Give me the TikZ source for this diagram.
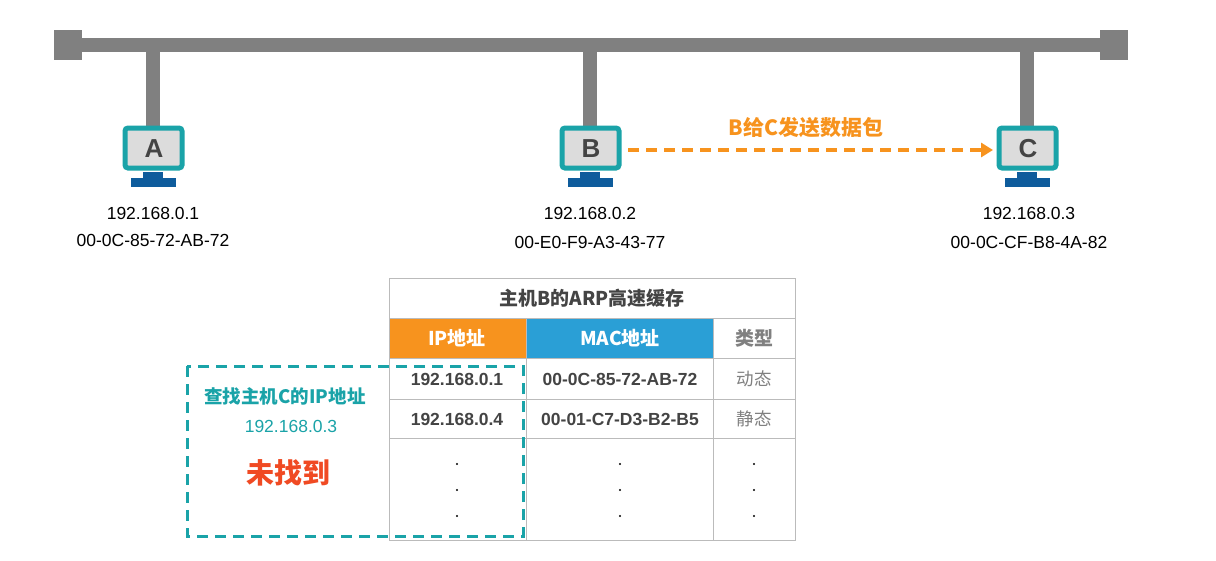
\documentclass[tikz,border=0pt]{standalone}
\usetikzlibrary{arrows.meta}
\usepackage{fontspec}
\setmainfont{Liberation Sans}
\newfontfamily\cjk{Noto Sans CJK SC}
\definecolor{bus}{HTML}{808080}
\definecolor{teal1}{HTML}{1AA3A8}
\definecolor{scr}{HTML}{DCDCDC}
\definecolor{stand}{HTML}{0E5C9C}
\definecolor{org}{HTML}{F7931E}
\definecolor{macb}{HTML}{2A9FD6}
\definecolor{txt}{HTML}{444444}
\definecolor{grid}{HTML}{BBBBBB}
\definecolor{red1}{HTML}{F04A23}
\tikzset{
 busline/.style={draw=bus,line width=14pt},
 addr/.style={font=\fontsize{17.5}{18}\selectfont,text=black},
 cell/.style={font=\bfseries\fontsize{17.5}{18}\selectfont,text=txt},
 gridl/.style={draw=grid,line width=1pt},
}
\newcommand{\pc}[3]{%
 \fill[stand] (#1-10,#2+47) rectangle (#1+10,#2+54);
 \fill[stand] (#1-22,#2+53) rectangle (#1+23,#2+62);
 \draw[teal1,fill=scr,line width=5pt,rounded corners=3pt] (#1-28,#2+3) rectangle (#1+29,#2+43);
 \node[font=\bfseries\fontsize{26}{26}\selectfont,text=txt] (#3) at (#1+1,#2+24) {#3};
}
\begin{document}
\begin{tikzpicture}[x=1pt,y=-1pt]
\useasboundingbox (0,0) rectangle (1216,560);
\fill[white] (0,0) rectangle (1216,560);
% bus
\coordinate (bl) at (68,45); \coordinate (br) at (1114,45);
\draw[busline] (bl) -- (br);
\fill[bus] (54,30) rectangle (82,60);
\fill[bus] (1100,30) rectangle (1128,60);
\foreach \x in {153,590,1027} \draw[busline] (\x,45) -- (\x,128);
\pc{153}{125}{A}
\pc{590}{125}{B}
\pc{1027}{125}{C}
\node[addr] (ia) at (153,213) {192.168.0.1};
\node[addr] (ma) at (153,240) {00-0C-85-72-AB-72};
\node[addr] (ib) at (590,213) {192.168.0.2};
\node[addr] (mb) at (590,242) {00-E0-F9-A3-43-77};
\node[addr] (ic) at (1029,213) {192.168.0.3};
\node[addr] (mc) at (1029,242) {00-0C-CF-B8-4A-82};
% arrow
\coordinate (as) at (628,150); \coordinate (ae) at (993,150);
\draw[org,line width=3.5pt,dash pattern=on 11pt off 7pt,-{Triangle[length=12pt,width=14pt]}] (as) -- (ae);
\node[text=org,font=\cjk\bfseries\fontsize{21}{22}\selectfont] (lbl) at (806,128) {B给C发送数据包};
% table
\fill[org] (389,318) rectangle (526,358);
\fill[macb] (526,318) rectangle (713,358);
\draw[gridl] (389,278) rectangle (795,540);
\foreach \y in {318,358,399,438} \draw[gridl] (389,\y) -- (795,\y);
\foreach \x in {526,713} \draw[gridl] (\x,318) -- (\x,540);
\node[font=\cjk\bfseries\fontsize{19}{20}\selectfont,text=txt] (tt) at (592,298) {主机B的ARP高速缓存};
\node[font=\cjk\bfseries\fontsize{19}{20}\selectfont,text=white] (h1) at (457,338) {IP地址};
\node[font=\cjk\bfseries\fontsize{19}{20}\selectfont,text=white] (h2) at (620,338) {MAC地址};
\node[font=\cjk\bfseries\fontsize{19}{20}\selectfont,text=gray] (h3) at (754,338) {类型};
\node[cell] (r11) at (457,379) {192.168.0.1};
\node[cell] (r12) at (620,379) {00-0C-85-72-AB-72};
\node[cell,font=\cjk\fontsize{17.5}{18}\selectfont,text=gray] (r13) at (754,379) {动态};
\node[cell] (r21) at (457,419) {192.168.0.4};
\node[cell] (r22) at (620,419) {00-01-C7-D3-B2-B5};
\node[cell,font=\cjk\fontsize{17.5}{18}\selectfont,text=gray] (r23) at (754,419) {静态};
\foreach \x in {457,620,754} \foreach \y in {464,490,516} \fill[black] (\x,\y) circle (1.2pt);
% dashed box
\draw[teal1,line width=3pt,dash pattern=on 11pt off 7pt] (187,366) rectangle (523,536);
\node[text=teal1,font=\cjk\bfseries\fontsize{18.5}{19}\selectfont] (q) at (285,396) {查找主机C的IP地址};
\node[text=teal1,font=\fontsize{17.5}{18}\selectfont] (qi) at (291,426) {192.168.0.3};
\node[text=red1,font=\cjk\bfseries\fontsize{28}{28}\selectfont] (nf) at (288,473) {未找到};
\end{tikzpicture}
\end{document}
